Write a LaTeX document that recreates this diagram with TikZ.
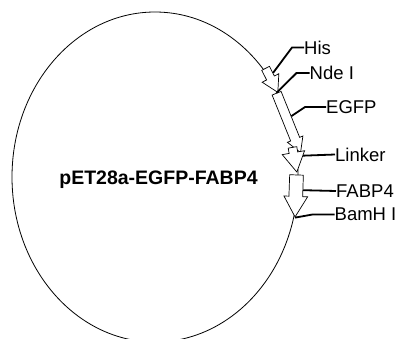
\documentclass[tikz,border=0pt]{standalone}
\usepackage{fontspec}
\setmainfont{Liberation Sans}
\usetikzlibrary{shapes.arrows,positioning}

\begin{document}
\begin{tikzpicture}[x = 1pt, y = -1pt,
  feature/.style = {draw=black, fill=white, line width=.7pt, single arrow,
    single arrow tip angle=60, inner xsep=0pt, anchor=center},
  leader/.style = {line width=1.8pt},
  lbl/.style = {anchor=west, inner sep=0pt, font=\fontsize{18.5}{22}\selectfont}]
\useasboundingbox (0,0) rectangle (401,338);
\clip (0,0) rectangle (401,338);
% Plasmid backbone
\draw[line width=.8pt] (155,177) ellipse [x radius=143, y radius=165];
\node[anchor=base, font=\bfseries\fontsize{19.5}{22}\selectfont] (title) at (158.5,184) {pET28a-EGFP-FABP4};
% Features along the backbone
\node[feature, rotate=-63, minimum height=27pt, inner ysep=4pt, single arrow head extend=5pt] (his) at (270,77) {};
\node[feature, rotate=-68, minimum height=64pt, inner ysep=4.5pt, single arrow head extend=3.5pt] (egfp) at (287,119) {};
\node[feature, rotate=-80, minimum height=25pt, inner ysep=4pt, single arrow head extend=7pt] (linker) at (294,156) {};
\node[feature, rotate=-92, minimum height=42pt, inner ysep=6.5pt, single arrow head extend=5pt] (fabp) at (296,190) {};
% Cloning sites
\coordinate (nde) at (egfp.tail);
\coordinate (bam) at (fabp.tip);
% Labels
\node[lbl] (hislbl) at (304,47.5) {His};
\node[lbl] (ndelbl) at (309.5,73) {Nde I};
\node[lbl] (egfplbl) at (326,107) {EGFP};
\node[lbl] (linkerlbl) at (335,154.5) {Linker};
\node[lbl] (fabplbl) at (336,191) {FABP4};
\node[lbl] (bamlbl) at (334.5,214.5) {BamH I};
% Leaders
\draw[leader] (his) -- ([xshift=-12pt]hislbl.west) -- (hislbl.west);
\draw[leader] (nde) -- ([xshift=-13pt]ndelbl.west) -- (ndelbl.west);
\draw[leader] (egfp) -- ([xshift=-21pt]egfplbl.west) -- (egfplbl.west);
\draw[leader] (linker) -- (linkerlbl.west);
\draw[leader] (fabp) -- (fabplbl.west);
\draw[leader] (bam) -- ([xshift=-22pt]bamlbl.west) -- (bamlbl.west);
\end{tikzpicture}
\end{document}
